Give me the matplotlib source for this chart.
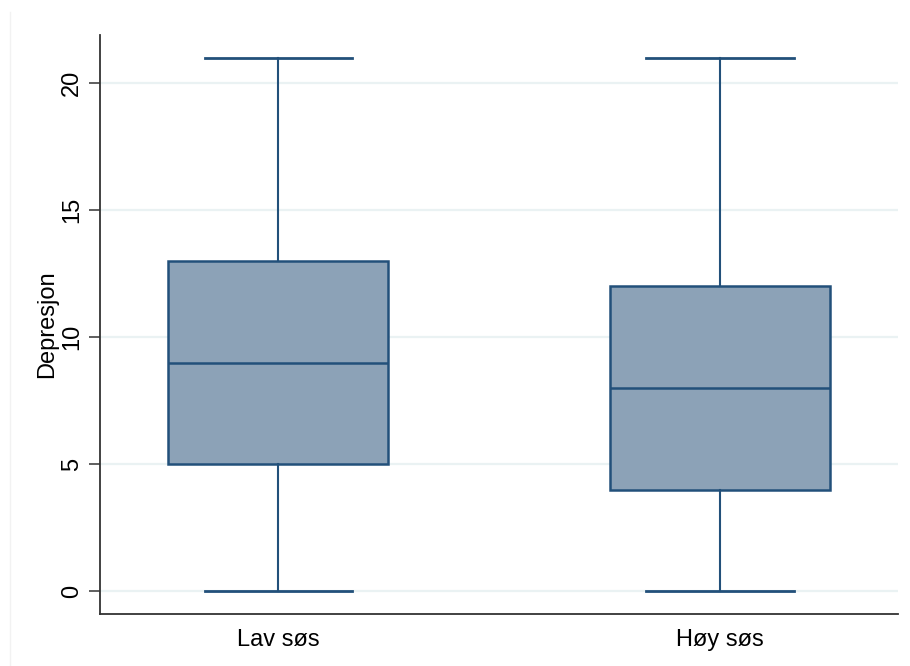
import matplotlib
matplotlib.use("Agg")
import matplotlib.pyplot as plt
from matplotlib.lines import Line2D

plt.rcParams['font.family'] = ['Liberation Sans', 'DejaVu Sans']

# Five-number summaries for depression score by socioeconomic status
groups = ["Lav søs", "Høy søs"]
whisker_low = [0, 0]
q1 = [5, 4]
median = [9, 8]
q3 = [13, 12]
whisker_high = [21, 21]

stats = [
    dict(label=g, whislo=lo, q1=a, med=m, q3=b, whishi=hi, fliers=[])
    for g, lo, a, m, b, hi in zip(groups, whisker_low, q1, median, q3, whisker_high)
]

navy = "#22507A"
fill = "#8CA2B7"
grid = "#EAF2F3"

fig = plt.figure(figsize=(9.10, 6.66), dpi=100)
ax = fig.add_axes([100 / 910, 1 - 614 / 666, 798 / 910, 579 / 666])

ax.bxp(
    stats,
    positions=[1, 2],
    widths=0.498,
    patch_artist=True,
    showfliers=False,
    boxprops=dict(facecolor=fill, edgecolor=navy, linewidth=1.8),
    medianprops=dict(color=navy, linewidth=1.8),
    whiskerprops=dict(color=navy, linewidth=1.5),
    capprops=dict(color=navy, linewidth=2.0),
    capwidths=0.333,
    zorder=3,
)

ax.set_xlim(0.597, 2.403)
ax.set_ylim(-0.9, 21.9)
ax.set_yticks([0, 5, 10, 15, 20])
ax.yaxis.grid(True, color=grid, linewidth=1.6, zorder=0)
ax.set_axisbelow(True)

for side in ("top", "right"):
    ax.spines[side].set_visible(False)
for side in ("left", "bottom"):
    ax.spines[side].set_color("#333333")
    ax.spines[side].set_linewidth(1.3)

ax.tick_params(axis="y", direction="out", length=8, width=1.1, color="#333333",
               labelsize=17, pad=4)
for lab in ax.get_yticklabels():
    lab.set_rotation(90)
    lab.set_va("center")
ax.tick_params(axis="x", length=0, labelsize=17, pad=11)
ax.set_xticks([1, 2])
ax.set_xticklabels(groups)

ax.set_ylabel("Depresjon", fontsize=17, labelpad=2)

# faint outer frame line on the left
fig.add_artist(Line2D([10 / 910, 10 / 910], [0, 1 - 12 / 666],
                      transform=fig.transFigure, color="#F2F2F2", linewidth=1))

fig.savefig("out.png", dpi=100, facecolor="white")
